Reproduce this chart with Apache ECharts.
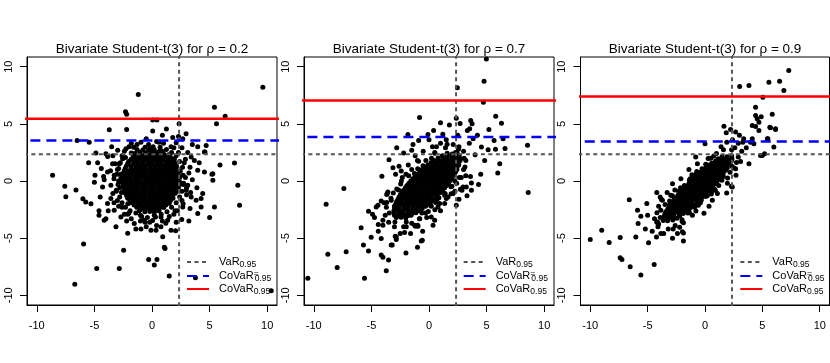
<!DOCTYPE html>
<html><head><meta charset="utf-8">
<script src="https://cdn.jsdelivr.net/npm/echarts@6/dist/echarts.min.js"></script>
<style>html,body{margin:0;padding:0;background:#fff}#c{width:830px;height:363px}</style>
</head><body><div id="c"></div>
<script>
const rhoValues = [0.2, 0.7, 0.9];
const varLevel = [2.35, 2.35, 2.35];
const covarEqLevel = [3.55, 3.84, 3.46];
const covarLevel = [5.45, 7.04, 7.39];
const tickValues = [-10, -5, 0, 5, 10];
const legendNames = ['VaR', 'CoVaR=', 'CoVaR'];

const p1Core = [
[-1.05,2.52],[-0.55,2.47],[-0.02,2.55],[0.48,2.5],[0.95,2.44],
[-1.62,2.12],[-1.18,2.08],[-0.77,2.15],[-0.38,2.1],[0.03,2.06],[0.42,2.13],[0.84,2.09],[1.22,2.14],[1.61,2.07],
[-2.02,1.71],[-1.57,1.68],[-1.2,1.74],[-0.81,1.69],[-0.37,1.72],[0.02,1.67],[0.41,1.73],[0.79,1.7],[1.23,1.66],[1.58,1.72],[1.93,1.69],
[-2.23,1.3],[-1.81,1.33],[-1.38,1.27],[-1.02,1.31],[-0.59,1.28],[-0.21,1.34],[0.22,1.29],[0.58,1.32],[1.03,1.27],[1.41,1.31],[1.79,1.28],[2.12,1.33],
[-2.41,0.9],[-2.01,0.87],[-1.62,0.93],[-1.19,0.89],[-0.82,0.92],[-0.39,0.88],[0.02,0.91],[0.38,0.87],[0.81,0.93],[1.19,0.9],[1.62,0.86],[1.98,0.92],[2.31,0.89],
[-2.52,0.5],[-2.09,0.47],[-1.71,0.53],[-1.28,0.49],[-0.91,0.52],[-0.48,0.47],[-0.11,0.51],[0.32,0.48],[0.69,0.53],[1.12,0.49],[1.48,0.52],[1.91,0.47],[2.28,0.51],
[-2.61,0.1],[-2.18,0.13],[-1.82,0.07],[-1.39,0.11],[-1.02,0.08],[-0.58,0.12],[-0.21,0.09],[0.19,0.13],[0.61,0.07],[0.98,0.11],[1.42,0.08],[1.79,0.12],[2.19,0.09],
[-2.49,-0.3],[-2.12,-0.27],[-1.68,-0.33],[-1.31,-0.29],[-0.88,-0.32],[-0.52,-0.28],[-0.09,-0.31],[0.29,-0.27],[0.72,-0.33],[1.09,-0.29],[1.52,-0.31],[1.88,-0.28],[2.31,-0.32],
[-2.38,-0.7],[-2.02,-0.73],[-1.59,-0.67],[-1.21,-0.71],[-0.79,-0.68],[-0.41,-0.72],[0.02,-0.69],[0.39,-0.73],[0.81,-0.67],[1.18,-0.71],[1.61,-0.68],[1.99,-0.72],
[-2.29,-1.1],[-1.88,-1.07],[-1.51,-1.13],[-1.09,-1.09],[-0.71,-1.12],[-0.28,-1.08],[0.11,-1.11],[0.49,-1.07],[0.92,-1.13],[1.28,-1.09],[1.71,-1.12],[2.02,-1.08],
[-2.11,-1.5],[-1.69,-1.47],[-1.31,-1.53],[-0.88,-1.49],[-0.51,-1.52],[-0.08,-1.48],[0.31,-1.51],[0.69,-1.47],[1.12,-1.53],[1.49,-1.49],[1.82,-1.52],
[-1.79,-1.9],[-1.41,-1.87],[-0.98,-1.93],[-0.61,-1.89],[-0.19,-1.92],[0.22,-1.88],[0.59,-1.91],[1.01,-1.87],[1.38,-1.93],
[-1.32,-2.3],[-0.88,-2.27],[-0.51,-2.33],[-0.09,-2.29],[0.28,-2.32],[0.71,-2.28],[1.02,-2.31],
[-0.62,-2.7],[-0.19,-2.67],[0.21,-2.72]
];
const p1CoreB = [
[-0.8,2.72],[-0.3,2.68],[0.2,2.74],[0.7,2.69],
[-1.41,2.31],[-0.98,2.28],[-0.58,2.33],[-0.17,2.29],[0.22,2.32],[0.63,2.27],[1.04,2.31],[1.42,2.29],
[-1.82,1.9],[-1.39,1.88],[-0.99,1.93],[-0.58,1.89],[-0.18,1.92],[0.21,1.88],[0.62,1.91],[1.02,1.87],[1.41,1.92],[1.78,1.89],
[-2.12,1.51],[-1.62,1.48],[-1.19,1.52],[-0.81,1.49],[-0.38,1.53],[0.01,1.48],[0.42,1.51],[0.82,1.47],[1.21,1.52],[1.61,1.49],[1.98,1.51],
[-2.32,1.1],[-1.81,1.12],[-1.41,1.08],[-0.99,1.11],[-0.61,1.09],[-0.19,1.12],[0.21,1.08],[0.61,1.11],[0.99,1.09],[1.41,1.12],[1.79,1.08],[2.18,1.11],
[-2.48,0.7],[-2.2,0.72],[-1.82,0.68],[-1.41,0.71],[-1.0,0.69],[-0.61,0.72],[-0.19,0.68],[0.19,0.71],[0.6,0.69],[1.01,0.72],[1.39,0.68],[1.8,0.71],[2.18,0.69],
[-2.58,0.3],[-2.29,0.32],[-1.9,0.28],[-1.49,0.31],[-1.11,0.29],[-0.7,0.32],[-0.3,0.28],[0.11,0.31],[0.5,0.29],[0.89,0.32],[1.29,0.28],[1.7,0.31],[2.08,0.29],[2.4,0.3],
[-2.6,-0.1],[-2.31,-0.08],[-1.9,-0.12],[-1.5,-0.09],[-1.09,-0.11],[-0.7,-0.08],[-0.29,-0.12],[0.1,-0.09],[0.49,-0.11],[0.9,-0.08],[1.3,-0.12],[1.69,-0.09],[2.1,-0.11],[2.42,-0.1],
[-2.52,-0.5],[-2.2,-0.48],[-1.81,-0.52],[-1.4,-0.49],[-1.0,-0.51],[-0.6,-0.48],[-0.2,-0.52],[0.19,-0.49],[0.6,-0.51],[1.0,-0.48],[1.39,-0.52],[1.8,-0.49],[2.15,-0.5],
[-2.4,-0.9],[-2.1,-0.88],[-1.7,-0.92],[-1.3,-0.89],[-0.9,-0.91],[-0.5,-0.88],[-0.1,-0.92],[0.3,-0.89],[0.7,-0.91],[1.1,-0.88],[1.5,-0.92],[1.88,-0.89],[2.1,-0.9],
[-2.2,-1.3],[-1.8,-1.28],[-1.4,-1.32],[-1.0,-1.29],[-0.6,-1.31],[-0.2,-1.28],[0.2,-1.32],[0.6,-1.29],[1.0,-1.31],[1.4,-1.28],[1.8,-1.32],
[-1.9,-1.7],[-1.5,-1.68],[-1.1,-1.72],[-0.7,-1.69],[-0.3,-1.71],[0.1,-1.68],[0.5,-1.72],[0.9,-1.69],[1.3,-1.71],[1.6,-1.7],
[-1.55,-2.1],[-1.15,-2.08],[-0.75,-2.12],[-0.35,-2.09],[0.05,-2.11],[0.45,-2.08],[0.85,-2.12],[1.2,-2.1],
[-1.0,-2.5],[-0.6,-2.48],[-0.2,-2.52],[0.2,-2.49],[0.6,-2.51]
];
const p1Halo = [
[-2.75,1.6],[-2.9,1.1],[-3.05,0.6],[-2.95,-0.3],[-3.1,-0.8],[-2.8,-1.4],[-2.6,-1.9],[-2.3,-2.3],[-1.9,-2.6],[-1.4,-2.8],
[-0.9,-3.1],[-0.4,-3.2],[0.3,-3.15],[0.8,-2.9],[1.3,-2.7],[1.7,-2.3],[2.1,-1.9],[2.4,-1.4],[2.6,-0.9],[2.75,-0.2],
[2.7,0.5],[2.65,1.2],[2.4,1.7],[2.1,2.2],[1.7,2.5],[1.25,2.75],[0.7,2.95],[0.1,3.0],[-0.6,2.95],[-1.3,2.75],
[-1.8,2.45],[-2.3,2.05],[-2.55,1.95],[-2.7,0.3],[-2.65,-1.0],[-2.1,-2.0],[-1.1,-2.6],[0.6,-2.6],[1.5,-1.95],[2.3,-0.55],
[2.45,0.85],[1.95,1.95],[0.9,2.6],[-0.2,2.85],[-1.5,2.4],[-3.3,0.2],[-3.4,-1.1],[-3.2,1.5],[-2.4,2.6],[-1.3,3.2],
[0.6,3.4],[1.9,2.9],[2.9,1.9],[3.2,0.7],[3.0,-0.6],[2.7,-2.0],[2.0,-2.6],[0.9,-3.5],[-0.6,-3.6],[-1.8,-3.3],
[-2.9,-2.2],[-3.6,0.9],[-3.4,2.2],[-2.0,3.0],[3.35,-1.0],[2.3,2.5],[-3.3,-1.9],[-1.0,-3.5],[1.5,-3.1],[0.05,-3.45],
[-2.1,-2.9]
];
const p1Outer = [
[-8.63,0.5],[-7.57,-0.46],[-7.48,-1.38],[-6.6,-0.78],[-6.0,-1.55],[-5.75,-1.83],[-1.19,7.57],[-2.3,6.05],[-2.2,5.85],[-2.2,4.5],
[-3.71,4.48],[-6.5,3.55],[-5.45,3.4],[9.62,8.2],[5.42,6.46],[6.35,5.67],[5.6,5.0],[2.35,5.0],[0.06,5.33],[0.43,5.33],
[0.06,4.38],[1.25,4.55],[7.16,1.57],[5.2,0.6],[7.45,-0.38],[2.96,4.13],[2.67,3.7],[4.7,3.1],[4.6,2.53],[-2.98,2.68],
[-4.87,2.44],[-3.85,2.15],[-4.72,1.6],[-4.95,0.5],[-4.2,0.4],[-5.0,-0.1],[-4.6,-2.6],[-4.6,-3.0],[-4.15,-3.43],[-3.13,-4.0],
[-2.11,-4.57],[-0.96,-4.2],[-0.09,-4.3],[0.78,-4.0],[1.65,-4.3],[2.05,-4.35],[1.07,-5.8],[3.97,-2.85],[4.26,-2.27],[5.42,-2.27],
[4.4,-1.1],[5.28,0.06],[5.28,0.64],[7.6,-2.12],[4.26,-1.54],[2.58,-3.37],[0.93,-4.88],[0.35,-4.3],[-4.0,-3.3],[-5.94,-5.52],
[-4.8,-7.65],[-2.84,-7.65],[-2.46,-6.05],[-6.7,-9.04],[-0.29,-6.86],[0.43,-6.86],[0.2,-7.36],[1.5,-8.32],[1.13,-5.9],[10.35,-9.6],
[3.77,-8.46],
[-0.96,3.4],[-0.3,3.2],[0.4,3.45],[1.0,3.3],[1.65,3.0],[3.5,3.2],[3.97,3.0],[4.55,2.53],[3.68,1.8],[3.97,0.93],
[4.55,0.79],[3.83,-1.68],[3.4,-1.4],[3.1,-0.38],[2.96,-0.8],[2.67,-2.27],[2.2,-2.6],[1.36,-3.43],[0.78,-3.14],[-0.67,-3.43],
[-1.54,-3.72],[-2.7,-3.14],[-3.28,-2.56],[-3.86,-1.97],[-3.57,-1.54],[-4.29,-0.52],[-3.57,-0.38],[-3.28,0.5],[-3.86,0.79],[-3.42,1.52],
[-2.84,1.5],[-4.15,0.1],[-4.0,2.39],[-2.26,2.83],[-1.6,2.95],[2.1,3.35],[2.6,2.9],[3.1,2.5],[3.3,1.2],[2.9,0.3],
[3.5,0.1],[3.0,-1.2],[2.6,-1.7],[1.9,-2.9],[0.2,-3.0],[-0.2,-3.6],[-1.0,-3.0],[-2.0,-2.8],[-2.6,-2.3],[-3.0,-1.7],
[-3.1,-0.9],[-2.9,0.0],[-3.0,1.0],[-2.6,2.2],[-0.5,3.7],[0.9,4.0],[1.8,3.8],[-1.8,3.3],[2.3,3.9],[-3.5,3.0],
[-4.4,1.1],[-4.5,-1.4],[-3.8,-2.6],[-2.2,-3.5],[-0.5,-4.0],[1.2,-3.7],[2.1,-3.6],[3.3,-2.4],[3.9,-0.6],[4.1,1.6],
[3.4,2.1],[2.8,1.6],[2.7,-0.3],[-2.8,-0.6],[-2.7,0.6],[-2.4,-2.9],[0.4,-3.9],[-1.4,-4.2],[5.9,1.4],[5.0,-3.2],
[3.2,-3.5],[-5.3,-2.0],[-5.5,1.6]
];

const p2Core = [
[1.58,2.42],[2.01,2.37],[2.44,2.43],
[0.79,2.02],[1.21,1.97],[1.59,2.03],[2.02,1.98],[2.38,2.04],[2.69,1.99],
[0.18,1.61],[0.62,1.57],[0.99,1.63],[1.41,1.58],[1.79,1.62],[2.22,1.57],[2.58,1.63],
[-0.33,1.2],[0.07,1.23],[0.44,1.17],[0.86,1.21],[1.24,1.18],[1.66,1.22],[2.04,1.19],[2.43,1.22],
[-0.81,0.8],[-0.39,0.77],[0.02,0.83],[0.38,0.79],[0.81,0.82],[1.19,0.78],[1.62,0.81],[1.98,0.77],[2.31,0.82],
[-1.21,0.4],[-0.79,0.43],[-0.42,0.37],[0.01,0.41],[0.39,0.38],[0.82,0.42],[1.18,0.39],[1.61,0.43],[2.03,0.38],
[-1.58,0.0],[-1.21,0.03],[-0.78,-0.03],[-0.41,0.01],[0.02,-0.02],[0.38,0.02],[0.81,-0.01],[1.19,0.03],[1.58,-0.02],[1.81,0.02],
[-1.91,-0.4],[-1.49,-0.37],[-1.12,-0.43],[-0.69,-0.39],[-0.31,-0.42],[0.12,-0.38],[0.49,-0.41],[0.91,-0.37],[1.28,-0.43],[1.52,-0.39],
[-2.21,-0.8],[-1.79,-0.77],[-1.42,-0.83],[-0.98,-0.79],[-0.61,-0.82],[-0.18,-0.78],[0.21,-0.81],[0.58,-0.77],[1.01,-0.83],[1.19,-0.79],
[-2.48,-1.2],[-2.11,-1.17],[-1.68,-1.23],[-1.31,-1.19],[-0.89,-1.22],[-0.52,-1.18],[-0.09,-1.21],[0.29,-1.17],[0.71,-1.23],
[-2.69,-1.6],[-2.31,-1.57],[-1.88,-1.63],[-1.51,-1.59],[-1.09,-1.62],[-0.71,-1.58],[-0.28,-1.61],[0.09,-1.57],[0.41,-1.63],
[-2.88,-2.0],[-2.49,-1.97],[-2.11,-2.03],[-1.69,-1.99],[-1.31,-2.02],[-0.89,-1.98],[-0.51,-2.01],[-0.08,-1.97],
[-2.98,-2.4],[-2.61,-2.37],[-2.19,-2.43],[-1.81,-2.39],[-1.38,-2.42],[-1.01,-2.38],[-0.59,-2.41],
[-3.04,-2.8],[-2.64,-2.77],[-2.26,-2.83],[-1.84,-2.79],[-1.46,-2.82],[-1.14,-2.78],
[-2.84,-3.2],[-2.43,-3.17],[-2.02,-3.23]
];
const p2CoreB = [
[1.15,2.2],[1.55,2.18],[1.95,2.22],[2.35,2.19],[2.62,2.21],
[0.45,1.8],[0.85,1.78],[1.25,1.82],[1.65,1.79],[2.05,1.81],[2.45,1.78],[2.7,1.8],
[-0.1,1.4],[0.3,1.38],[0.7,1.42],[1.1,1.39],[1.5,1.41],[1.9,1.38],[2.3,1.42],[2.58,1.4],
[-0.6,1.0],[-0.2,0.98],[0.2,1.02],[0.6,0.99],[1.0,1.01],[1.4,0.98],[1.8,1.02],[2.2,0.99],[2.42,1.0],
[-1.0,0.6],[-0.6,0.58],[-0.2,0.62],[0.2,0.59],[0.6,0.61],[1.0,0.58],[1.4,0.62],[1.8,0.59],[2.2,0.61],
[-1.4,0.2],[-1.0,0.18],[-0.6,0.22],[-0.2,0.19],[0.2,0.21],[0.6,0.18],[1.0,0.22],[1.4,0.19],[1.8,0.21],[1.95,0.2],
[-1.75,-0.2],[-1.35,-0.22],[-0.95,-0.18],[-0.55,-0.21],[-0.15,-0.19],[0.25,-0.22],[0.65,-0.18],[1.05,-0.21],[1.45,-0.19],[1.68,-0.2],
[-2.05,-0.6],[-1.65,-0.62],[-1.25,-0.58],[-0.85,-0.61],[-0.45,-0.59],[-0.05,-0.62],[0.35,-0.58],[0.75,-0.61],[1.15,-0.59],[1.36,-0.6],
[-2.35,-1.0],[-1.95,-1.02],[-1.55,-0.98],[-1.15,-1.01],[-0.75,-0.99],[-0.35,-1.02],[0.05,-0.98],[0.45,-1.01],[0.85,-0.99],[1.0,-1.0],
[-2.6,-1.4],[-2.2,-1.42],[-1.8,-1.38],[-1.4,-1.41],[-1.0,-1.39],[-0.6,-1.42],[-0.2,-1.38],[0.2,-1.41],[0.6,-1.39],
[-2.8,-1.8],[-2.4,-1.82],[-2.0,-1.78],[-1.6,-1.81],[-1.2,-1.79],[-0.8,-1.82],[-0.4,-1.78],[0.0,-1.81],[0.2,-1.8],
[-2.98,-2.2],[-2.58,-2.22],[-2.18,-2.18],[-1.78,-2.21],[-1.38,-2.19],[-0.98,-2.22],[-0.58,-2.18],[-0.3,-2.2],
[-3.05,-2.6],[-2.65,-2.62],[-2.25,-2.58],[-1.85,-2.61],[-1.45,-2.59],[-1.05,-2.62],[-0.85,-2.6],
[-3.0,-3.0],[-2.6,-3.02],[-2.2,-2.98],[-1.8,-3.01],[-1.55,-3.0]
];
const p2Halo = [
[-3.67,-1.89],[-1.97,-3.58],[-3.1,-1.04],[-0.84,-3.3],[-2.46,-0.26],[-0.06,-2.66],[-1.76,0.45],[0.58,-1.88],[-0.98,1.08],[1.36,-1.25],
[-0.27,1.79],[1.99,-0.47],[0.51,2.43],[2.63,0.31],[1.43,2.92],[3.12,1.23],[2.56,2.78],[-2.96,-3.58],[-3.45,-2.8],[3.05,2.0],
[-3.67,-1.18],[-2.32,0.31],[-0.91,1.72],[0.65,2.99],[-0.98,-3.87],[0.51,-2.52],[1.92,-1.11],[3.19,0.45],[0.22,2.0],[-0.62,-2.8],
[-1.26,0.66],[0.86,-1.46],[-2.64,-0.79],[2.24,-0.01],[-0.52,1.33],[0.12,-2.13],[-1.97,-4.01],[1.57,3.21]
];
const p2Outer = [
[4.98,10.68],[4.78,8.73],[2.46,8.15],[4.72,6.9],[5.79,5.67],[6.29,5.06],[-0.82,5.55],[1.0,5.1],[1.77,4.9],[2.37,5.5],
[2.7,5.03],[3.62,5.3],[3.74,5.0],[3.33,4.42],[3.53,4.57],[8.55,3.12],[6.6,2.85],[5.65,3.55],[6.43,3.7],[5.77,2.77],
[6.14,1.52],[5.97,0.7],[4.49,0.6],[4.83,1.8],[-1.83,4.07],[-0.09,4.07],[0.4,4.42],[-1.39,3.2],[-0.9,3.55],[-2.2,2.44],
[-3.47,1.87],[-3.13,1.17],[-4.09,0.41],[-7.39,-0.66],[-8.93,-2.03],[-10.52,-8.52],[-8.78,-6.4],[-7.97,-7.56],[-7.19,-6.2],[-5.6,-8.52],
[-5.89,-4.1],[-5.69,-5.61],[-5.25,-6.13],[-5.02,-4.92],[-4.15,-5.03],[-4.15,-6.48],[-4.0,-6.68],[-3.51,-6.92],[-3.71,-7.85],[-3.19,-5.61],
[-2.84,-5.11],[-2.84,-4.89],[-2.12,-4.5],[-0.67,-5.24],[-0.55,-4.4],[-1.17,-3.95],[-0.96,-3.95],[0.35,-3.87],[0.49,-3.43],[8.61,-1.01],
[3.68,-0.81],[3.68,-0.17],[2.96,-0.52],[2.72,-0.72],[2.25,-0.9],[-5.25,-2.64],[-4.9,-2.9],[-4.43,-2.12],[-4.15,-1.75],[-3.62,-1.1],
[-3.28,-1.68],[0.78,-2.27],[1.36,-1.97],[1.5,-1.54],[2.09,-1.1],[-4.58,-2.27],[-4.73,-3.2],[-3.57,-0.96],[-2.41,0.87],[3.83,3.7],
[4.55,2.97],[5.13,2.74],[3.24,-0.52],[2.86,-0.8],[2.37,-2.12],[1.65,-1.4],[0.92,-1.97],[0.2,-3.14],[-0.58,-5.18],[-1.25,-3.87],
[-2.93,-4.83],[-3.28,-5.61],[-4.0,-3.43],[-4.0,-3.87],
[-1.8,1.4],[-1.2,2.2],[-0.5,2.6],[0.3,3.0],[1.0,3.3],[1.5,3.6],[2.1,3.2],[2.6,3.0],[3.0,2.6],[3.2,1.8],
[3.0,1.0],[2.8,0.3],[2.4,-0.2],[1.9,-0.5],[1.4,-1.1],[0.7,-1.6],[0.2,-2.2],[-0.3,-2.8],[-0.8,-3.3],[-1.5,-3.7],
[-2.2,-4.0],[-3.0,-4.0],[-3.5,-3.6],[-3.8,-3.0],[-3.7,-2.3],[-3.3,-1.5],[-2.8,-0.7],[-2.4,0.0],[-2.0,0.6],[-1.5,1.0],
[-2.6,1.3],[-1.0,1.8],[0.5,2.5],[2.3,2.5],[1.9,0.4],[0.9,-0.9],[3.5,3.3],[4.0,2.3],[3.6,0.4],[2.5,4.0],
[0.0,3.6],[-1.5,2.7],[-2.9,0.6],[-3.9,-1.9],[-4.4,-3.8],[-2.5,-4.6],[-1.6,-4.6],[-0.2,-3.2],[1.0,-2.6],[2.6,-1.6],
[3.3,-1.3],[4.3,-0.3],[-3.0,-2.2],[-4.4,-4.4],[-1.0,-5.8],[-2.0,-6.3],[4.2,4.0],[1.2,4.1],[-2.8,2.9],[5.2,4.5]
];

const p3Core = [
[1.49,2.15],[1.91,2.12],[2.33,2.18],
[0.91,1.75],[1.28,1.72],[1.71,1.78],[2.09,1.74],[2.31,1.77],
[0.36,1.35],[0.74,1.32],[1.16,1.38],[1.54,1.34],[1.94,1.37],
[-0.14,0.95],[0.26,0.92],[0.64,0.98],[1.06,0.94],[1.44,0.97],[1.79,0.93],
[-0.59,0.55],[-0.21,0.52],[0.19,0.58],[0.61,0.54],[0.99,0.57],[1.38,0.53],
[-1.01,0.15],[-0.61,0.12],[-0.19,0.18],[0.21,0.14],[0.59,0.17],[0.98,0.13],[1.21,0.16],
[-1.41,-0.25],[-0.99,-0.28],[-0.61,-0.22],[-0.19,-0.26],[0.21,-0.23],[0.59,-0.27],[0.84,-0.24],
[-1.79,-0.65],[-1.41,-0.68],[-0.99,-0.62],[-0.61,-0.66],[-0.19,-0.63],[0.21,-0.67],[0.49,-0.64],
[-2.14,-1.05],[-1.76,-1.08],[-1.34,-1.02],[-0.96,-1.06],[-0.54,-1.03],[-0.16,-1.07],[0.09,-1.04],
[-2.49,-1.45],[-2.11,-1.48],[-1.69,-1.42],[-1.31,-1.46],[-0.89,-1.43],[-0.51,-1.47],[-0.29,-1.44],
[-2.79,-1.85],[-2.41,-1.88],[-1.99,-1.82],[-1.61,-1.86],[-1.19,-1.83],[-0.71,-1.87],
[-3.09,-2.25],[-2.71,-2.28],[-2.29,-2.22],[-1.91,-2.26],[-1.49,-2.23],[-1.16,-2.27],
[-3.34,-2.65],[-2.96,-2.68],[-2.54,-2.62],[-2.16,-2.66],[-1.71,-2.63],
[-3.54,-3.05],[-3.16,-3.08],[-2.74,-3.02],[-2.21,-3.06],
[-3.64,-3.45],[-3.26,-3.48],[-2.81,-3.42]
];
const p3CoreB = [
[1.15,1.95],[1.55,1.93],[1.95,1.97],[2.35,1.94],
[0.58,1.55],[0.98,1.53],[1.38,1.57],[1.78,1.54],[2.18,1.56],
[0.08,1.15],[0.48,1.13],[0.88,1.17],[1.28,1.14],[1.68,1.16],[1.94,1.15],
[-0.4,0.75],[0.0,0.73],[0.4,0.77],[0.8,0.74],[1.2,0.76],[1.6,0.73],
[-0.82,0.35],[-0.42,0.33],[-0.02,0.37],[0.38,0.34],[0.78,0.36],[1.18,0.33],[1.38,0.35],
[-1.25,-0.05],[-0.85,-0.07],[-0.45,-0.03],[-0.05,-0.06],[0.35,-0.04],[0.75,-0.07],[1.04,-0.05],
[-1.63,-0.45],[-1.23,-0.47],[-0.83,-0.43],[-0.43,-0.46],[-0.03,-0.44],[0.37,-0.47],[0.69,-0.45],
[-2.0,-0.85],[-1.6,-0.87],[-1.2,-0.83],[-0.8,-0.86],[-0.4,-0.84],[0.0,-0.87],[0.33,-0.85],
[-2.35,-1.25],[-1.95,-1.27],[-1.55,-1.23],[-1.15,-1.26],[-0.75,-1.24],[-0.35,-1.27],[-0.06,-1.25],
[-2.67,-1.65],[-2.27,-1.67],[-1.87,-1.63],[-1.47,-1.66],[-1.07,-1.64],[-0.67,-1.67],[-0.47,-1.65],
[-2.97,-2.05],[-2.57,-2.07],[-2.17,-2.03],[-1.77,-2.06],[-1.37,-2.04],[-0.95,-2.07],
[-3.24,-2.45],[-2.84,-2.47],[-2.44,-2.43],[-2.04,-2.46],[-1.64,-2.44],[-1.38,-2.47],
[-3.48,-2.85],[-3.08,-2.87],[-2.68,-2.83],[-2.28,-2.86],[-1.9,-2.84],
[-3.65,-3.25],[-3.25,-3.27],[-2.85,-3.23],[-2.45,-3.26]
];
const p3Halo = [
[-4.19,-2.77],[-3.48,-2.06],[-2.84,-1.29],[-2.13,-0.58],[-1.36,0.06],[-0.72,0.83],[0.06,1.47],[0.76,2.18],[1.61,2.74],[-2.77,-4.19],
[-1.99,-3.55],[-1.36,-2.77],[-0.58,-2.13],[0.06,-1.36],[0.83,-0.72],[1.47,0.06],[2.18,0.76],[2.74,1.61],[-4.04,-2.21],[-2.63,-0.79],
[-1.14,0.55],[0.27,1.97],[-2.21,-4.04],[-0.79,-2.63],[0.55,-1.14],[1.97,0.27],[2.32,2.74],[-4.04,-3.76],[-0.26,1.08],[-0.33,-1.68],
[2.5,1.15],[-3.09,-1.75]
];
const p3Outer = [
[7.3,9.66],[5.57,8.64],[6.5,8.73],[6.87,7.91],[3.83,8.35],[3.02,8.26],[5.04,7.33],[4.41,6.46],[5.86,5.85],[4.41,5.73],
[4.55,5.44],[4.9,5.62],[4.7,5.15],[4.12,4.86],[4.41,4.77],[5.71,4.66],[6.15,4.51],[4.7,4.42],[5.48,3.7],[6.0,2.97],
[1.65,4.8],[1.85,4.22],[2.23,4.51],[2.67,4.28],[0.0,3.26],[3.37,3.7],[4.12,3.7],[4.99,2.24],[-0.81,2.1],[1.95,-0.2],
[2.3,-0.45],[-2.83,-0.23],[-10.0,-5.11],[-9.0,-4.3],[-8.35,-5.38],[-7.39,-4.94],[-7.39,-6.72],[-7.24,-6.86],[-6.52,-7.5],[-5.59,-8.23],
[-4.43,-7.3],[-6.6,-1.63],[-5.88,-2.56],[-5.59,-3.08],[-5.83,-3.72],[-5.07,-1.97],[-6.03,-4.9],[-4.92,-5.41],[-4.23,-4.89],[-4.2,-1.0],
[-4.14,-3.58],[-3.85,-4.59],[-2.83,-5.0],[-1.88,-4.54],[-1.88,-5.26],[-1.88,-3.66],[-3.85,-2.56],[-3.8,-1.6],[-2.98,-1.25],[-0.09,-2.82],
[1.89,-1.05],[2.38,-0.52],[-3.91,-1.4],[-3.71,-1.68],[-4.2,-3.6],[-1.1,-2.99],[0.35,-2.21],[0.64,-1.68],[1.08,-1.1],[2.67,1.08],
[2.35,1.3],[3.83,1.52],[4.84,2.24],[5.19,2.39],[5.43,3.7],[6.15,4.57],[5.65,4.71],[3.97,3.4],[4.26,3.26],[-0.66,1.52],
[-1.97,-4.45],
[2.6,2.9],[2.9,3.3],[2.4,3.6],[1.9,3.4],[1.4,3.0],[3.2,2.6],[2.9,2.1],[3.3,3.4],[1.0,2.4],[0.5,2.0],
[0.2,1.4],[-0.3,0.8],[1.6,0.4],[1.2,-0.4],[0.9,-0.8],[-0.8,0.6],[-1.3,0.2],[-1.8,-0.4],[-2.3,-0.9],[-2.7,-1.6],
[-3.1,-2.1],[-3.4,-2.7],[-3.9,-3.2],[-4.1,-4.0],[-3.2,-4.2],[-2.6,-3.9],[-2.0,-3.4],[-1.5,-2.8],[-0.9,-2.3],[-0.4,-1.9],
[0.2,-1.3],[0.6,-0.9],[-4.4,-3.3],[-4.6,-4.4],[-3.6,-4.6],[-2.4,-4.6],[-3.3,-1.0],[-2.1,0.2],[-1.4,1.0],[2.7,0.5],
[3.1,1.7],[3.6,2.9],[1.5,1.9],[0.8,1.0],[-5.0,-3.0],[-5.2,-4.2],[3.0,4.0]
];

const panelPoints = [
  p1Core.concat(p1CoreB, p1Halo, p1Outer),
  p2Core.concat(p2CoreB, p2Halo, p2Outer),
  p3Core.concat(p3CoreB, p3Halo, p3Outer)
];

const FONT = 'Liberation Sans, Arial, sans-serif';
const gridLefts = [27, 304, 580.5];
const gridWidths = [250, 250, 249];
const GTOP = 57, GH = 248;
const AX = 10.85, FAR = 30;

const grids = [], xAxes = [], yAxes = [], series = [], legends = [], graphics = [];
for (let i = 0; i < 3; i++) {
  grids.push({left: gridLefts[i], top: GTOP, width: gridWidths[i], height: GH, show: true,
    borderColor: '#000', borderWidth: 1, backgroundColor: 'transparent'});
  const common = {type: 'value', gridIndex: i, min: -AX, max: AX, splitLine: {show: false},
    axisLine: {show: true, onZero: false, lineStyle: {color: '#000', width: 1}},
    axisTick: {show: true, inside: false, length: 7, customValues: tickValues, lineStyle: {color: '#000', width: 1}}};
  xAxes.push(Object.assign({}, common, {position: 'bottom',
    axisLabel: {customValues: tickValues, fontSize: 11, color: '#000', margin: 15, fontFamily: FONT}}));
  yAxes.push(Object.assign({}, common, {position: 'left',
    axisLabel: {customValues: tickValues, fontSize: 11, color: '#000', margin: 13, rotate: 90, fontFamily: FONT}}));

  series.push({type: 'scatter', xAxisIndex: i, yAxisIndex: i, data: panelPoints[i], symbol: 'circle',
    symbolSize: 5, itemStyle: {color: '#000', opacity: 1}, z: 2, silent: true});
  const lineBase = {type: 'line', xAxisIndex: i, yAxisIndex: i, symbol: 'none', z: 3, silent: true, clip: true};
  series.push(Object.assign({}, lineBase, {name: 'VaR', data: [[-FAR, varLevel[i]], [FAR, varLevel[i]]],
    itemStyle: {color: '#555555'}, lineStyle: {color: '#555555', width: 2, type: [4, 3.5]}}));
  series.push(Object.assign({}, lineBase, {name: 'VaR', data: [[varLevel[i], -FAR], [varLevel[i], FAR]],
    itemStyle: {color: '#555555'}, lineStyle: {color: '#555555', width: 2, type: [4, 3.5]}}));
  series.push(Object.assign({}, lineBase, {name: 'CoVaR=', data: [[-FAR, covarEqLevel[i]], [FAR, covarEqLevel[i]]],
    itemStyle: {color: '#0000ff'}, lineStyle: {color: '#0000ff', width: 2.5, type: [10, 6]}}));
  series.push(Object.assign({}, lineBase, {name: 'CoVaR', data: [[-FAR, covarLevel[i]], [FAR, covarLevel[i]]],
    itemStyle: {color: '#ff0000'}, lineStyle: {color: '#ff0000', width: 2.5, type: 'solid'}}));
  legends.push({data: legendNames, orient: 'vertical', left: 186 + i * 276.67, top: 256, padding: 0,
    itemWidth: 22, itemHeight: 10, itemGap: 0, selectedMode: false,
    itemStyle: {opacity: 0, borderWidth: 0},
    formatter: function (name) {
      if (name === 'VaR') return '{g| }{m|VaR}{s|0.95}';
      if (name === 'CoVaR=') return '{g| }{m|CoVaR}{p|=}{s|0.95}';
      return '{g| }{m|CoVaR}{s|0.95}';
    },
    textStyle: {fontFamily: FONT, fontSize: 11, color: '#000', rich: {
      g: {width: 5, fontSize: 11, lineHeight: 14},
      m: {fontSize: 11, lineHeight: 14, fontFamily: FONT, color: '#000'},
      s: {fontSize: 8.5, lineHeight: 9, fontFamily: FONT, color: '#000', verticalAlign: 'bottom', padding: [4, 0, 0, 0]},
      p: {fontSize: 8.5, lineHeight: 9, fontFamily: FONT, color: '#000', verticalAlign: 'top', width: 1, padding: [0, 0, 3, 0]}
    }}});
  graphics.push({type: 'text', x: gridLefts[i] + gridWidths[i] / 2, y: 49.5, silent: true,
    style: {text: 'Bivariate Student-t(3) for \u03c1 = ' + rhoValues[i], fill: '#000',
      font: '13.5px ' + FONT, textAlign: 'center', textVerticalAlign: 'middle'}});
}

const chart = echarts.init(document.getElementById('c'), null, {renderer: 'canvas'});
chart.setOption({
  animation: false, backgroundColor: '#fff', textStyle: {fontFamily: FONT},
  grid: grids, xAxis: xAxes, yAxis: yAxes, series: series, legend: legends, graphic: graphics
});
</script></body></html>
